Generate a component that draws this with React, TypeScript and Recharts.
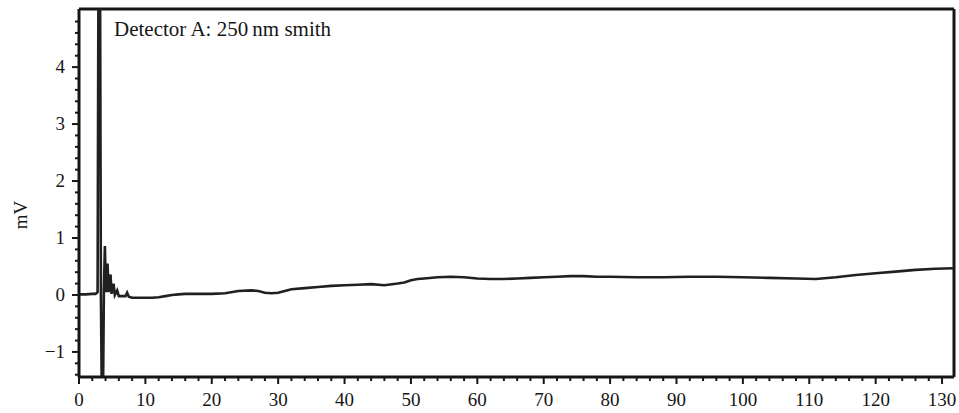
import React from 'react'
import { LineChart, Line, XAxis, YAxis, ReferenceLine } from 'recharts'

const times = [
  0, 1, 2, 2.5, 2.8, 2.95, 3.15, 3.3, 3.45, 3.6, 3.75, 3.9, 4.05, 4.3, 4.45, 4.75, 4.9, 5.2, 5.4, 5.75,
  6.0, 6.6, 7.0, 7.25, 7.5, 8, 9, 10, 11, 12, 13, 14, 15, 16, 18, 20, 22, 24, 26, 27, 28, 29, 30, 31,
  32, 34, 36, 38, 40, 42, 44, 46, 48, 49, 50, 51, 52, 54, 56, 58, 60, 62, 64, 66, 68, 70, 72, 74, 76,
  78, 80, 84, 88, 92, 96, 100, 104, 108, 111, 114, 117, 120, 123, 126, 129, 131.8,
]
const signal = [
  0.01, 0.01, 0.02, 0.02, 0.05, 6.5, 6.5, 0, -2, -2, 0.1, 0.86, 0.05, 0.55, 0.05, 0.36, 0.02, 0.2, 0, 0.08,
  -0.02, -0.02, -0.02, 0.04, -0.03, -0.05, -0.05, -0.05, -0.05, -0.04, -0.02, 0, 0.01, 0.02, 0.02, 0.02, 0.03, 0.07, 0.08, 0.07, 0.04, 0.03, 0.04, 0.07,
  0.1, 0.12, 0.14, 0.16, 0.17, 0.18, 0.19, 0.17, 0.2, 0.22, 0.26, 0.28, 0.29, 0.31, 0.32, 0.31, 0.29, 0.28, 0.28, 0.29, 0.3, 0.31, 0.32, 0.33, 0.33,
  0.32, 0.32, 0.31, 0.31, 0.32, 0.32, 0.31, 0.3, 0.29, 0.28, 0.31, 0.35, 0.38, 0.41, 0.44, 0.46, 0.47,
]

const xTicks = [
  0, 2, 4, 6, 8, 10, 12, 14, 16, 18, 20, 22, 24, 26, 28, 30, 32, 34, 36, 38, 40, 42, 44, 46, 48, 50,
  52, 54, 56, 58, 60, 62, 64, 66, 68, 70, 72, 74, 76, 78, 80, 82, 84, 86, 88, 90, 92, 94, 96, 98, 100,
  102, 104, 106, 108, 110, 112, 114, 116, 118, 120, 122, 124, 126, 128, 130,
]
const yTicks = [
  -1.4, -1.2, -1, -0.8, -0.6, -0.4, -0.2, 0, 0.2, 0.4, 0.6, 0.8, 1, 1.2, 1.4, 1.6, 1.8, 2, 2.2, 2.4,
  2.6, 2.8, 3, 3.2, 3.4, 3.6, 3.8, 4, 4.2, 4.4, 4.6, 4.8,
]
const yLabels = [-1, 0, 1, 2, 3, 4]

const xMax = 131.8
const yMin = -1.44
const yMax = 5.02

const data = times.map((t, i) => ({ t, mv: signal[i] }))

const ink = '#161616'
const font = '"Liberation Serif", "DejaVu Serif", serif'

const XTick = (props: any) => {
  const { x, y, payload } = props
  const major = Number.isInteger(payload.value / 10)
  return (
    <g>
      <line x1={x} y1={y} x2={x} y2={y + (major ? 7 : 4)} stroke={ink} strokeWidth={2} />
      {major && (
        <text x={x} y={y + 29} textAnchor="middle" fontFamily={font} fontSize={19} fill={ink}>
          {payload.value}
        </text>
      )}
    </g>
  )
}

const YTick = (props: any) => {
  const { x, y, payload } = props
  const major = yLabels.includes(payload.value)
  const label = payload.value < 0 ? '\u2212' + Math.abs(payload.value) : String(payload.value)
  return (
    <g>
      <line x1={x} y1={y} x2={x - (major ? 7 : 4)} y2={y} stroke={ink} strokeWidth={2} />
      {major && (
        <text x={x - 14} y={y + 6} textAnchor="end" fontFamily={font} fontSize={19} fill={ink}>
          {label}
        </text>
      )}
    </g>
  )
}

export default function App() {
  return (
    <div style={{ position: 'absolute', left: 0, top: 0, width: 959, height: 413, background: '#fff' }}>
      <LineChart width={959} height={413} data={data} margin={{ top: 9, right: 5, bottom: 0, left: 0 }}>
        <XAxis
          dataKey="t"
          type="number"
          domain={[0, xMax]}
          ticks={xTicks}
          interval={0}
          allowDataOverflow
          height={36}
          tickSize={0}
          tickMargin={0}
          tickLine={false}
          tick={<XTick />}
          axisLine={{ stroke: ink, strokeWidth: 3 }}
        />
        <YAxis
          type="number"
          domain={[yMin, yMax]}
          ticks={yTicks}
          interval={0}
          allowDataOverflow
          width={79}
          tickSize={0}
          tickMargin={0}
          tickLine={false}
          tick={<YTick />}
          axisLine={{ stroke: ink, strokeWidth: 3 }}
        />
        <ReferenceLine y={yMax} stroke={ink} strokeWidth={3} strokeOpacity={1} ifOverflow="visible" />
        <ReferenceLine x={xMax} stroke={ink} strokeWidth={3} strokeOpacity={1} ifOverflow="visible" />
        <Line
          type="linear"
          dataKey="mv"
          stroke="#202020"
          strokeWidth={2.6}
          dot={false}
          isAnimationActive={false}
        />
      </LineChart>
      <svg width={959} height={413} style={{ position: 'absolute', left: 0, top: 0, pointerEvents: 'none' }}>
        <text x={114} y={36} fontFamily={font} fontSize={21} fill={ink}>
          Detector A: 250{'\u2009'}nm smith
        </text>
        <text
          x={27}
          y={215}
          transform="rotate(-90 27 215)"
          textAnchor="middle"
          fontFamily={font}
          fontSize={19}
          fill={ink}
        >
          mV
        </text>
      </svg>
    </div>
  )
}
